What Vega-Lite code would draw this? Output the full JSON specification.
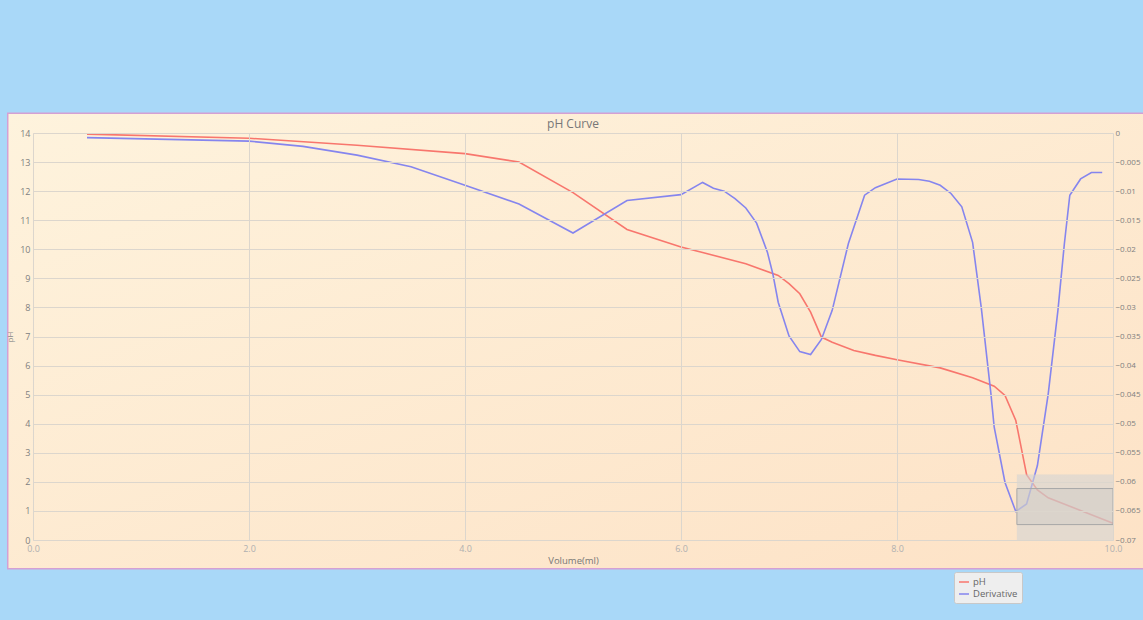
{
  "$schema": "https://vega.github.io/schema/vega-lite/v6.json",
  "width": 1080,
  "height": 407,
  "autosize": {"type": "none"},
  "padding": {"left": 33, "top": 133, "right": 30, "bottom": 80},
  "background": "#a9d8f8",
  "title": {"text": "pH Curve", "fontSize": 12, "fontWeight": "normal", "color": "#777777", "font": "Open Sans", "offset": -19},
  "data": {"values": [
    {"series": "pH", "volume": 0.5, "value": 13.96},
    {"series": "pH", "volume": 2.0, "value": 13.82},
    {"series": "pH", "volume": 3.0, "value": 13.58},
    {"series": "pH", "volume": 4.0, "value": 13.29},
    {"series": "pH", "volume": 4.5, "value": 13.0},
    {"series": "pH", "volume": 5.0, "value": 11.95},
    {"series": "pH", "volume": 5.5, "value": 10.68},
    {"series": "pH", "volume": 6.0, "value": 10.08},
    {"series": "pH", "volume": 6.2, "value": 9.89},
    {"series": "pH", "volume": 6.6, "value": 9.5},
    {"series": "pH", "volume": 6.9, "value": 9.1},
    {"series": "pH", "volume": 7.0, "value": 8.82},
    {"series": "pH", "volume": 7.1, "value": 8.47},
    {"series": "pH", "volume": 7.2, "value": 7.84},
    {"series": "pH", "volume": 7.3, "value": 6.98},
    {"series": "pH", "volume": 7.4, "value": 6.8},
    {"series": "pH", "volume": 7.6, "value": 6.52},
    {"series": "pH", "volume": 7.8, "value": 6.35},
    {"series": "pH", "volume": 8.0, "value": 6.2},
    {"series": "pH", "volume": 8.4, "value": 5.92},
    {"series": "pH", "volume": 8.7, "value": 5.58},
    {"series": "pH", "volume": 8.9, "value": 5.29},
    {"series": "pH", "volume": 9.0, "value": 4.97},
    {"series": "pH", "volume": 9.1, "value": 4.11},
    {"series": "pH", "volume": 9.2, "value": 2.25},
    {"series": "pH", "volume": 9.3, "value": 1.72},
    {"series": "pH", "volume": 9.4, "value": 1.45},
    {"series": "pH", "volume": 10.0, "value": 0.58},
    {"series": "Derivative", "volume": 0.5, "value": -0.0008},
    {"series": "Derivative", "volume": 2.0, "value": -0.0014},
    {"series": "Derivative", "volume": 2.5, "value": -0.0023},
    {"series": "Derivative", "volume": 3.0, "value": -0.0038},
    {"series": "Derivative", "volume": 3.5, "value": -0.0058},
    {"series": "Derivative", "volume": 4.0, "value": -0.009},
    {"series": "Derivative", "volume": 4.5, "value": -0.0122},
    {"series": "Derivative", "volume": 5.0, "value": -0.0172},
    {"series": "Derivative", "volume": 5.5, "value": -0.0116},
    {"series": "Derivative", "volume": 6.0, "value": -0.0106},
    {"series": "Derivative", "volume": 6.2, "value": -0.0085},
    {"series": "Derivative", "volume": 6.3, "value": -0.0095},
    {"series": "Derivative", "volume": 6.4, "value": -0.01},
    {"series": "Derivative", "volume": 6.5, "value": -0.0113},
    {"series": "Derivative", "volume": 6.6, "value": -0.0129},
    {"series": "Derivative", "volume": 6.7, "value": -0.0155},
    {"series": "Derivative", "volume": 6.8, "value": -0.0205},
    {"series": "Derivative", "volume": 6.85, "value": -0.0242},
    {"series": "Derivative", "volume": 6.9, "value": -0.0291},
    {"series": "Derivative", "volume": 7.0, "value": -0.0349},
    {"series": "Derivative", "volume": 7.1, "value": -0.0376},
    {"series": "Derivative", "volume": 7.2, "value": -0.0381},
    {"series": "Derivative", "volume": 7.3, "value": -0.0355},
    {"series": "Derivative", "volume": 7.4, "value": -0.0305},
    {"series": "Derivative", "volume": 7.55, "value": -0.019},
    {"series": "Derivative", "volume": 7.7, "value": -0.0107},
    {"series": "Derivative", "volume": 7.8, "value": -0.0094},
    {"series": "Derivative", "volume": 8.0, "value": -0.0079},
    {"series": "Derivative", "volume": 8.2, "value": -0.008},
    {"series": "Derivative", "volume": 8.3, "value": -0.0083},
    {"series": "Derivative", "volume": 8.4, "value": -0.009},
    {"series": "Derivative", "volume": 8.5, "value": -0.0104},
    {"series": "Derivative", "volume": 8.6, "value": -0.0127},
    {"series": "Derivative", "volume": 8.7, "value": -0.0188},
    {"series": "Derivative", "volume": 8.78, "value": -0.03},
    {"series": "Derivative", "volume": 8.87, "value": -0.0449},
    {"series": "Derivative", "volume": 8.9, "value": -0.0506},
    {"series": "Derivative", "volume": 9.0, "value": -0.0601},
    {"series": "Derivative", "volume": 9.1, "value": -0.0651},
    {"series": "Derivative", "volume": 9.2, "value": -0.0638},
    {"series": "Derivative", "volume": 9.3, "value": -0.0572},
    {"series": "Derivative", "volume": 9.4, "value": -0.0449},
    {"series": "Derivative", "volume": 9.49, "value": -0.0305},
    {"series": "Derivative", "volume": 9.55, "value": -0.019},
    {"series": "Derivative", "volume": 9.6, "value": -0.0107},
    {"series": "Derivative", "volume": 9.7, "value": -0.0079},
    {"series": "Derivative", "volume": 9.8, "value": -0.0068},
    {"series": "Derivative", "volume": 9.9, "value": -0.0068}
  ]},
  "layer": [
    {
      "data": {"values": [{}]},
      "mark": {"type": "rect", "stroke": "#d4a0d4", "strokeWidth": 1.5, "fill": {"gradient": "linear", "x1": 0, "y1": 0, "x2": 1, "y2": 1, "stops": [{"offset": 0, "color": "#fef3dd"}, {"offset": 1, "color": "#fde2c6"}]}},
      "encoding": {
        "x": {"datum": -0.234, "type": "quantitative", "scale": {"domain": [0, 10], "nice": false},
              "axis": {"values": [0, 2, 4, 6, 8, 10], "format": ".1f", "title": "Volume(ml)", "zindex": 1}},
        "x2": {"datum": 10.3},
        "y": {"datum": 14.68, "type": "quantitative", "scale": {"domain": [0, 14], "nice": false}, "axis": null},
        "y2": {"datum": -0.99}
      }
    },
    {
      "transform": [{"filter": "datum.series === 'pH'"}],
      "mark": {"type": "line", "strokeWidth": 1.6},
      "encoding": {
        "x": {"field": "volume", "type": "quantitative", "scale": {"domain": [0, 10], "nice": false},
              "axis": {"values": [0, 2, 4, 6, 8, 10], "format": ".1f", "title": "Volume(ml)", "zindex": 1}},
        "y": {"field": "value", "type": "quantitative", "scale": {"domain": [0, 14], "nice": false},
              "axis": {"orient": "left", "zindex": 1, "grid": true, "gridColor": "#dcd6cd", "values": [0,1,2,3,4,5,6,7,8,9,10,11,12,13,14], "title": "pH", "titleFontSize": 8, "titleColor": "#888888", "titlePadding": 5}},
        "color": {"field": "series", "type": "nominal", "sort": ["pH", "Derivative"],
                  "scale": {"domain": ["pH", "Derivative"], "range": ["#f8766d", "#8585ee"]},
                  "legend": {"orient": "none", "legendX": 921, "legendY": 439, "title": null, "fillColor": "#eeeeee", "strokeColor": "#c8c8c8", "padding": 4, "cornerRadius": 2, "symbolType": "stroke", "symbolSize": 100, "symbolStrokeWidth": 1.5, "labelFontSize": 9.5, "labelColor": "#666666", "labelFont": "Open Sans", "rowPadding": 1, "labelOffset": 3}}
      }
    },
    {
      "transform": [{"filter": "datum.series === 'Derivative'"}],
      "mark": {"type": "line", "strokeWidth": 1.6},
      "encoding": {
        "x": {"field": "volume", "type": "quantitative", "scale": {"domain": [0, 10], "nice": false},
              "axis": {"values": [0, 2, 4, 6, 8, 10], "format": ".1f", "title": "Volume(ml)", "zindex": 1}},
        "y": {"field": "value", "type": "quantitative", "scale": {"domain": [-0.07, 0], "nice": false},
              "axis": {"orient": "right", "zindex": 1, "values": [0, -0.005, -0.01, -0.015, -0.02, -0.025, -0.03, -0.035, -0.04, -0.045, -0.05, -0.055, -0.06, -0.065, -0.07], "format": "~g", "grid": false, "domain": false, "title": null, "labelPadding": 2, "labelFontSize": 8}},
        "color": {"field": "series", "type": "nominal", "sort": ["pH", "Derivative"],
                  "scale": {"domain": ["pH", "Derivative"], "range": ["#f8766d", "#8585ee"]}}
      }
    },
    {
      "data": {"values": [{}]},
      "mark": {"type": "rect", "fill": "#d4d4d4", "fillOpacity": 0.6},
      "encoding": {
        "x": {"datum": 9.11, "type": "quantitative", "scale": {"domain": [0, 10], "nice": false},
              "axis": {"values": [0, 2, 4, 6, 8, 10], "format": ".1f", "title": "Volume(ml)", "zindex": 1}},
        "x2": {"datum": 10.0},
        "y": {"datum": 2.25, "type": "quantitative", "scale": {"domain": [0, 14], "nice": false}, "axis": null},
        "y2": {"datum": 0}
      }
    },
    {
      "data": {"values": [{}]},
      "mark": {"type": "rect", "fill": "#c4c4c4", "fillOpacity": 0.3, "stroke": "#a8a8a8", "strokeWidth": 1},
      "encoding": {
        "x": {"datum": 9.11, "type": "quantitative", "scale": {"domain": [0, 10], "nice": false},
              "axis": {"values": [0, 2, 4, 6, 8, 10], "format": ".1f", "title": "Volume(ml)", "zindex": 1}},
        "x2": {"datum": 10.0},
        "y": {"datum": 1.77, "type": "quantitative", "scale": {"domain": [0, 14], "nice": false}, "axis": null},
        "y2": {"datum": 0.53}
      }
    }
  ],
  "resolve": {"scale": {"y": "independent"}, "axis": {"y": "independent"}},
  "config": {
    "font": "Open Sans",
    "view": {"stroke": null},
    "axis": {
      "zindex": 1,
      "labelFont": "Open Sans", "titleFont": "Open Sans",
      "labelFontSize": 9, "labelColor": "#808080",
      "titleFontSize": 9.5, "titleFontWeight": "normal", "titleColor": "#777777",
      "ticks": false, "gridColor": "#dcd6cd", "gridOpacity": 1, "domainColor": "#dcd6cd",
      "labelFlush": false, "labelPadding": 3
    },
    "axisX": {"labelColor": "#b0b0b0", "titlePadding": 2, "labelPadding": 4, "grid": true}
  }
}
